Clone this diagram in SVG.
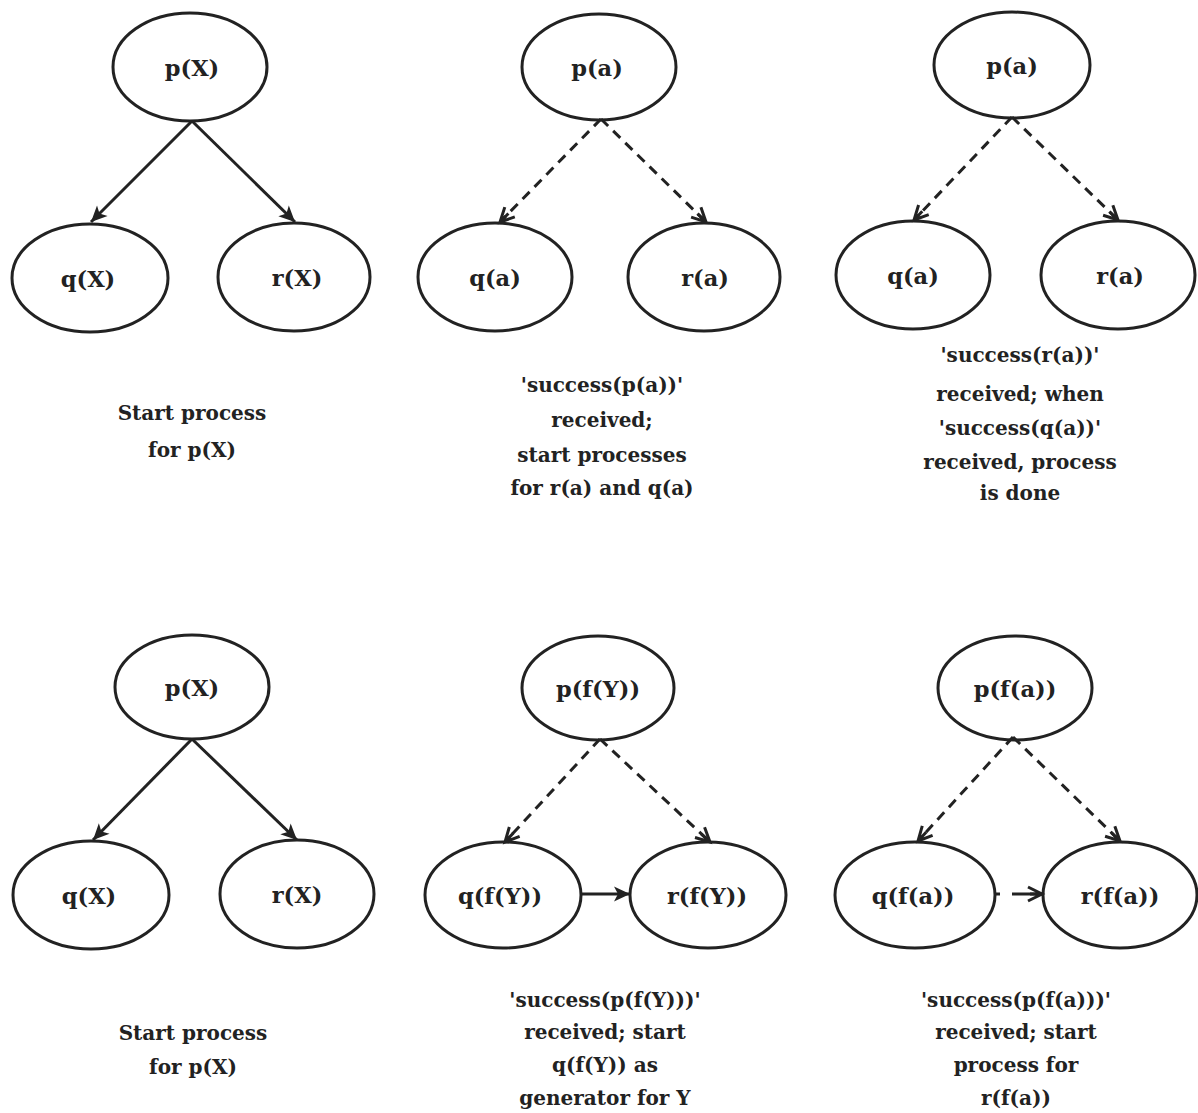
<svg xmlns="http://www.w3.org/2000/svg" width="1198" height="1113" viewBox="0 0 1198 1113">
<style>
.n ellipse{fill:none;stroke:#222;stroke-width:3}
.n text{font-family:"DejaVu Serif","Liberation Serif",serif;font-weight:bold;font-size:22.5px;fill:#222;text-anchor:middle}
.cap text{font-family:"DejaVu Serif","Liberation Serif",serif;font-weight:bold;font-size:20px;fill:#222;text-anchor:middle}
.s{fill:none;stroke:#222;stroke-width:3;marker-end:url(#ah)}
.d{fill:none;stroke:#222;stroke-width:3;stroke-dasharray:10 7;marker-end:url(#ao)}
</style>
<defs>
<marker id="ah" markerUnits="userSpaceOnUse" markerWidth="22" markerHeight="22" viewBox="-18 -11 22 22" refX="0" refY="0" orient="auto">
<path d="M0,0 L-16,-7.5 L-12,0 L-16,7.5 Z" fill="#222"/>
</marker>
<marker id="ao" markerUnits="userSpaceOnUse" markerWidth="22" markerHeight="22" viewBox="-18 -11 22 22" refX="0" refY="0" orient="auto">
<path d="M-14,-7 L0,0 L-14,7 M-12,0 L0,0" fill="none" stroke="#222" stroke-width="3"/>
</marker>
</defs>
<rect width="1198" height="1113" fill="#fff"/>

<g id="connectors">
<line class="s" x1="192" y1="121" x2="91" y2="222"/>
<line class="s" x1="192" y1="121" x2="295" y2="222"/>
<line class="d" x1="601" y1="119" x2="500" y2="222"/>
<line class="d" x1="601" y1="119" x2="706" y2="222"/>
<line class="d" x1="1012" y1="117" x2="914" y2="220"/>
<line class="d" x1="1012" y1="117" x2="1118" y2="220"/>
<line class="s" x1="192" y1="739" x2="93" y2="840"/>
<line class="s" x1="192" y1="739" x2="297" y2="840"/>
<line class="d" x1="600" y1="739" x2="505" y2="842"/>
<line class="d" x1="600" y1="739" x2="710" y2="842"/>
<line class="d" x1="1013" y1="737" x2="918" y2="841"/>
<line class="d" x1="1013" y1="737" x2="1120" y2="841"/>
<line class="s" x1="581" y1="894" x2="630" y2="894"/>
<line class="d" x1="995" y1="894" x2="1042" y2="894" style="stroke-dasharray:5 12 30"/>
</g>

<g id="r1p1-p" class="n"><ellipse cx="190" cy="67" rx="77" ry="54"/><text x="192" y="76">p(X)</text></g>
<g id="r1p1-q" class="n"><ellipse cx="90" cy="278" rx="78" ry="54"/><text x="88" y="287">q(X)</text></g>
<g id="r1p1-r" class="n"><ellipse cx="294" cy="277" rx="76" ry="54"/><text x="297" y="286">r(X)</text></g>
<g id="r1p1-cap" class="cap"><text x="192" y="420">Start process</text><text x="192" y="457">for p(X)</text></g>

<g id="r1p2-p" class="n"><ellipse cx="599" cy="67" rx="77" ry="53"/><text x="597" y="76">p(a)</text></g>
<g id="r1p2-q" class="n"><ellipse cx="495" cy="277" rx="77" ry="54"/><text x="495" y="286">q(a)</text></g>
<g id="r1p2-r" class="n"><ellipse cx="704" cy="277" rx="76" ry="54"/><text x="705" y="286">r(a)</text></g>
<g id="r1p2-cap" class="cap"><text x="602" y="392">'success(p(a))'</text><text x="602" y="427">received;</text><text x="602" y="462">start processes</text><text x="602" y="495">for r(a) and q(a)</text></g>

<g id="r1p3-p" class="n"><ellipse cx="1012" cy="65" rx="78" ry="53"/><text x="1012" y="74">p(a)</text></g>
<g id="r1p3-q" class="n"><ellipse cx="913" cy="275" rx="77" ry="54"/><text x="913" y="284">q(a)</text></g>
<g id="r1p3-r" class="n"><ellipse cx="1118" cy="275" rx="77" ry="54"/><text x="1120" y="284">r(a)</text></g>
<g id="r1p3-cap" class="cap"><text x="1020" y="362">'success(r(a))'</text><text x="1020" y="401">received; when</text><text x="1020" y="435">'success(q(a))'</text><text x="1020" y="469">received, process</text><text x="1020" y="500">is done</text></g>

<g id="r2p1-p" class="n"><ellipse cx="192" cy="687" rx="77" ry="52"/><text x="192" y="696">p(X)</text></g>
<g id="r2p1-q" class="n"><ellipse cx="91" cy="895" rx="78" ry="54"/><text x="89" y="904">q(X)</text></g>
<g id="r2p1-r" class="n"><ellipse cx="297" cy="894" rx="77" ry="54"/><text x="297" y="903">r(X)</text></g>
<g id="r2p1-cap" class="cap"><text x="193" y="1040">Start process</text><text x="193" y="1074">for p(X)</text></g>

<g id="r2p2-p" class="n"><ellipse cx="598" cy="688" rx="76" ry="52"/><text x="598" y="697">p(f(Y))</text></g>
<g id="r2p2-q" class="n"><ellipse cx="503" cy="895" rx="78" ry="53"/><text x="500" y="904">q(f(Y))</text></g>
<g id="r2p2-r" class="n"><ellipse cx="708" cy="895" rx="78" ry="53"/><text x="707" y="904">r(f(Y))</text></g>
<g id="r2p2-cap" class="cap"><text x="605" y="1007">'success(p(f(Y)))'</text><text x="605" y="1039">received; start</text><text x="605" y="1072">q(f(Y)) as</text><text x="605" y="1105">generator for Y</text></g>

<g id="r2p3-p" class="n"><ellipse cx="1015" cy="688" rx="77" ry="52"/><text x="1015" y="697">p(f(a))</text></g>
<g id="r2p3-q" class="n"><ellipse cx="915" cy="895" rx="80" ry="53"/><text x="913" y="904">q(f(a))</text></g>
<g id="r2p3-r" class="n"><ellipse cx="1120" cy="895" rx="77" ry="53"/><text x="1120" y="904">r(f(a))</text></g>
<g id="r2p3-cap" class="cap"><text x="1016" y="1007">'success(p(f(a)))'</text><text x="1016" y="1039">received; start</text><text x="1016" y="1072">process for</text><text x="1016" y="1105">r(f(a))</text></g>
</svg>
